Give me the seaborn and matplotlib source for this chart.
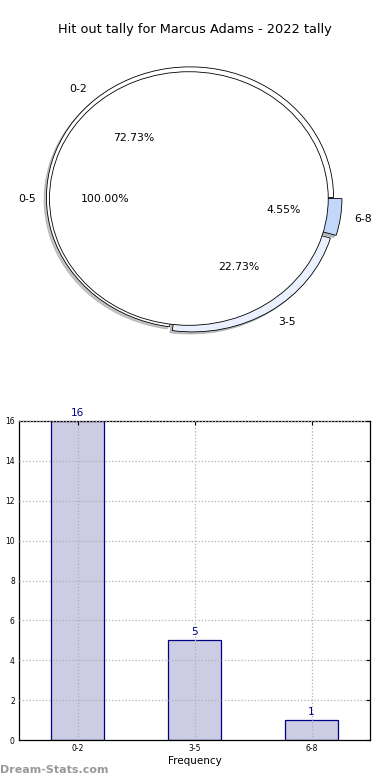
import matplotlib
matplotlib.use("Agg")
import matplotlib.pyplot as plt
import seaborn as sns
import pandas as pd
import numpy as np

# --- data ---
title = "Hit out tally for Marcus Adams - 2022 tally"
bins = ["0-2", "3-5", "6-8"]
counts = [16, 5, 1]
pie_colors = ["#ffffff", "#eaf0fd", "#c3d7fb"]
pie_explode = [0.0, 0.035, 0.06]
outer_label = ["0-5"]
outer_count = [22]

sns.set_style("white")
plt.rcParams['font.family'] = ['DejaVu Sans']
plt.rcParams['text.color'] = 'black'
plt.rcParams['axes.labelcolor'] = 'black'
plt.rcParams['xtick.color'] = 'black'
plt.rcParams['ytick.color'] = 'black'

fig = plt.figure(figsize=(3.9, 7.8), dpi=100)

# --- pie (top) ---
ax1 = fig.add_axes([7 / 390, 1 - 364 / 780, 366 / 390, 333 / 780])
shadow = dict(ox=-0.012, oy=-0.012, shade=0.45)
ax1.pie(counts, labels=bins, colors=pie_colors, explode=pie_explode,
        autopct='%1.2f%%', startangle=0, shadow=shadow, radius=1.02,
        wedgeprops=dict(edgecolor='black', linewidth=0.6),
        textprops=dict(fontsize=7.8, color='black'))
ax1.pie(outer_count, labels=outer_label, colors=["#ffffff"],
        autopct='%1.2f%%', startangle=0, radius=0.99, center=(-0.008, -0.008),
        wedgeprops=dict(edgecolor='black', linewidth=0.6),
        textprops=dict(fontsize=7.8, color='black'))
ax1.set_aspect('auto')
ax1.set_xlim(-1.3, 1.3)
ax1.set_ylim(-1.3, 1.3)
fig.text(195 / 390, 1 - 30 / 780, title, ha='center', va='center', fontsize=9.3)

# --- bar chart (bottom) ---
ax2 = fig.add_axes([19 / 390, 40 / 780, 351 / 390, 319 / 780])
df = pd.DataFrame({'Frequency': bins, 'Count': counts})
sns.barplot(data=df, x='Frequency', y='Count', color='#ccccE5', width=0.45,
            edgecolor='#000080', linewidth=0.9, saturation=1, ax=ax2)
for p, v in zip(ax2.patches, counts):
    ax2.text(p.get_x() + p.get_width() / 2, v + 0.15, str(v), ha='center',
             va='bottom', color='#000080', fontsize=7.5)
ax2.set_xlim(-0.5, 2.5)
ax2.set_ylim(0, 16)
ax2.set_yticks(np.arange(0, 17, 2))
ax2.grid(True, linestyle=':', color='#b0b0b0', linewidth=0.9)
ax2.set_axisbelow(False)
for s in ax2.spines.values():
    s.set_color('black')
    s.set_linewidth(0.9)
ax2.tick_params(direction='in', top=True, right=True, length=3, labelsize=5.5, pad=3)
ax2.set_xlabel('Frequency', fontsize=7.5, labelpad=2)
ax2.set_ylabel('Stat Interval', fontsize=7.5, labelpad=4)
ax2.yaxis.set_label_coords(-0.045, 0.5)

fig.text(0, 1 - 770 / 780, "Dream-Stats.com", ha='left', va='center',
         fontsize=8, color='#999999', fontweight='bold')

fig.savefig("out.png", dpi=100, facecolor='white')
